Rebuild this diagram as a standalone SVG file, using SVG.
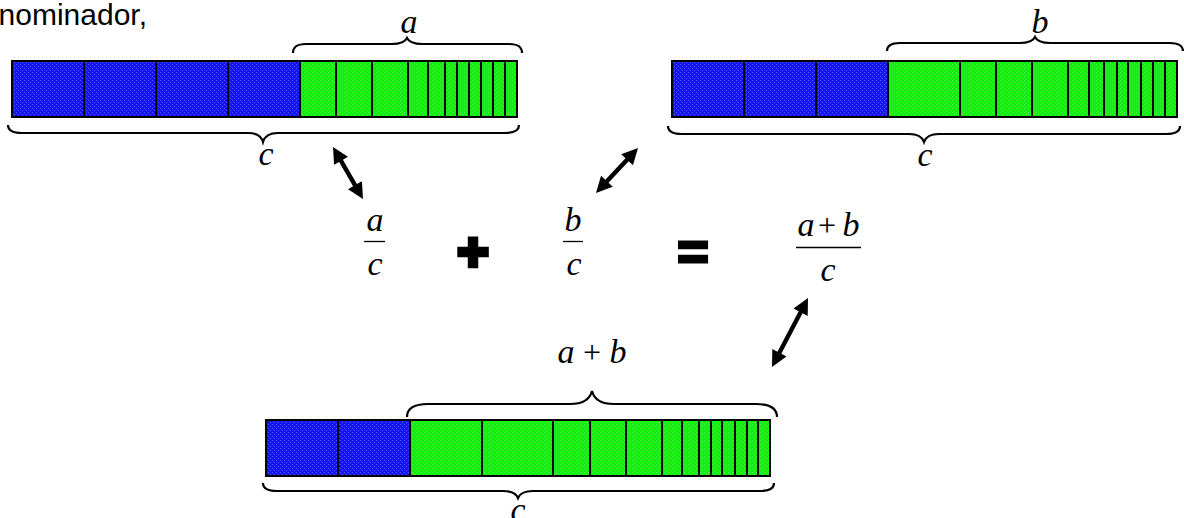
<svg xmlns="http://www.w3.org/2000/svg" width="1184" height="518" viewBox="0 0 1184 518">
<style>
.m{font-family:"Liberation Serif","Times New Roman",serif;font-style:italic;font-size:34px;fill:#000}
.u{font-family:"Liberation Serif","Times New Roman",serif;font-size:32px;fill:#000}
.br{fill:none;stroke:#000;stroke-width:2.2}
.bd{fill:none;stroke:#000;stroke-width:2}
.dv{stroke:#000;stroke-width:2}
.fl{stroke:#000;stroke-width:1.3}
.ar{fill:#000}
.op{font-family:"Liberation Sans",Arial,sans-serif;font-weight:bold;fill:#000;stroke:#000;text-anchor:middle}
</style>
<defs>
<pattern id="pb" width="4" height="4" patternUnits="userSpaceOnUse">
<rect width="4" height="4" fill="#1414f8"/>
<rect x="0" y="0" width="1" height="1" fill="#5a5aff"/>
<rect x="2" y="2" width="1" height="1" fill="#5a5aff"/>
</pattern>
<pattern id="pg" width="4" height="4" patternUnits="userSpaceOnUse">
<rect width="4" height="4" fill="#0cf00c"/>
<rect x="0" y="0" width="1" height="1" fill="#5cff5c"/>
<rect x="2" y="2" width="1" height="1" fill="#5cff5c"/>
</pattern>
</defs>
<rect width="1184" height="518" fill="#fff"/>

<text x="147" y="25" text-anchor="end" style="font-family:'Liberation Sans',Arial,sans-serif;font-size:30px">denominador,</text>

<g id="bar-a">
<rect x="12" y="61" width="288" height="56" fill="url(#pb)"/>
<rect x="300" y="61" width="217" height="56" fill="url(#pg)"/>
<path class="dv" d="M84,61V117M156,61V117M228,61V117M300,61V117M336,61V117M372,61V117M408,61V117M428,61V117M445,61V117M457,61V117M469,61V117M481,61V117M493,61V117M505,61V117"/>
<rect class="bd" x="12" y="61" width="505" height="56"/>
<path class="br" d="M293,53 C293,47 296,44 306,44 L392,44 C400,44 405,42 407,38 C409,42 414,44 422,44 L509,44 C519,44 522,47 522,53"/>
<text class="m" x="409" y="33" text-anchor="middle">a</text>
<path class="br" d="M8,125 C8,130 12,133 22,133 L248,133 C256,133 261,135 263,142 C265,135 270,133 278,133 L505,133 C515,133 519,130 519,125"/>
<text class="m" x="266" y="165" text-anchor="middle">c</text>
</g>

<g id="bar-b">
<rect x="672" y="61" width="216" height="56" fill="url(#pb)"/>
<rect x="888" y="61" width="289" height="56" fill="url(#pg)"/>
<path class="dv" d="M744,61V117M816,61V117M888,61V117M960,61V117M996,61V117M1032,61V117M1068,61V117M1089,61V117M1104,61V117M1117,61V117M1128,61V117M1141,61V117M1153,61V117M1165,61V117"/>
<rect class="bd" x="672" y="61" width="505" height="56"/>
<path class="br" d="M887,51 C887,46 890,43 900,43 L1020,43 C1028,43 1033,41 1035,37 C1037,41 1042,43 1050,43 L1170,43 C1180,43 1183,46 1183,51"/>
<text class="m" x="1040" y="33" text-anchor="middle">b</text>
<path class="br" d="M668,126 C668,131 672,134 682,134 L909,134 C917,134 922,136 924,142 C926,136 931,134 939,134 L1166,134 C1176,134 1180,131 1180,126"/>
<text class="m" x="925" y="166" text-anchor="middle">c</text>
</g>

<g id="bar-ab">
<rect x="266" y="420" width="144" height="56" fill="url(#pb)"/>
<rect x="410" y="420" width="360" height="56" fill="url(#pg)"/>
<path class="dv" d="M338,420V476M410,420V476M482,420V476M553,420V476M590,420V476M626,420V476M662,420V476M682,420V476M699,420V476M711,420V476M722,420V476M735,420V476M747,420V476M758,420V476"/>
<rect class="bd" x="266" y="420" width="504" height="56"/>
<path class="br" d="M407,417 C407,409 413,404 428,404 L570,404 C583,404 590,399 592,391 C594,399 601,404 614,404 L756,404 C771,404 777,409 777,417"/>
<text class="m" x="566" y="363" text-anchor="middle">a</text>
<text class="u" x="592" y="363" text-anchor="middle">+</text>
<text class="m" x="618" y="363" text-anchor="middle">b</text>
<path class="br" d="M263,483 C263,488 267,491 277,491 L503,491 C511,491 516,493 518,498 C520,493 525,491 533,491 L760,491 C770,491 774,488 774,483"/>
<text class="m" x="518" y="521" text-anchor="middle">c</text>
</g>

<g id="frac-a">
<text class="m" x="375" y="231" text-anchor="middle">a</text>
<line class="fl" x1="364" y1="241.5" x2="385" y2="241.5"/>
<text class="m" x="375" y="275" text-anchor="middle">c</text>
</g>
<g id="plus">
<text class="op" x="473" y="270" style="font-size:54px;stroke-width:4.5">+</text>
</g>
<g id="frac-b">
<text class="m" x="573" y="231" text-anchor="middle">b</text>
<line class="fl" x1="563" y1="241.5" x2="583" y2="241.5"/>
<text class="m" x="574" y="275" text-anchor="middle">c</text>
</g>
<g id="equals">
<text class="op" x="693" y="270" style="font-size:54px;stroke-width:3">=</text>
</g>
<g id="frac-ab">
<text class="m" x="806" y="236" text-anchor="middle">a</text>
<text class="u" x="827" y="236" text-anchor="middle">+</text>
<text class="m" x="851" y="236" text-anchor="middle">b</text>
<line class="fl" x1="796" y1="247.5" x2="861" y2="247.5"/>
<text class="m" x="828" y="281" text-anchor="middle">c</text>
</g>

<g id="connectors">
<polygon class="ar" points="333,147 334.07,164.86 339.09,161.96 353.09,186.24 348.07,189.14 363,199 361.93,181.14 356.91,184.04 342.91,159.76 347.93,156.86"/>
<polygon class="ar" points="638,148 621.23,154.24 625.47,158.2 605.31,179.8 601.07,175.84 596,193 612.77,186.76 608.53,182.8 628.69,161.2 632.93,165.16"/>
<polygon class="ar" points="808,298 793.51,308.49 798.65,311.17 777.45,351.79 772.31,349.11 772,367 786.49,356.51 781.35,353.83 802.55,313.21 807.69,315.89"/>
</g>
</svg>
